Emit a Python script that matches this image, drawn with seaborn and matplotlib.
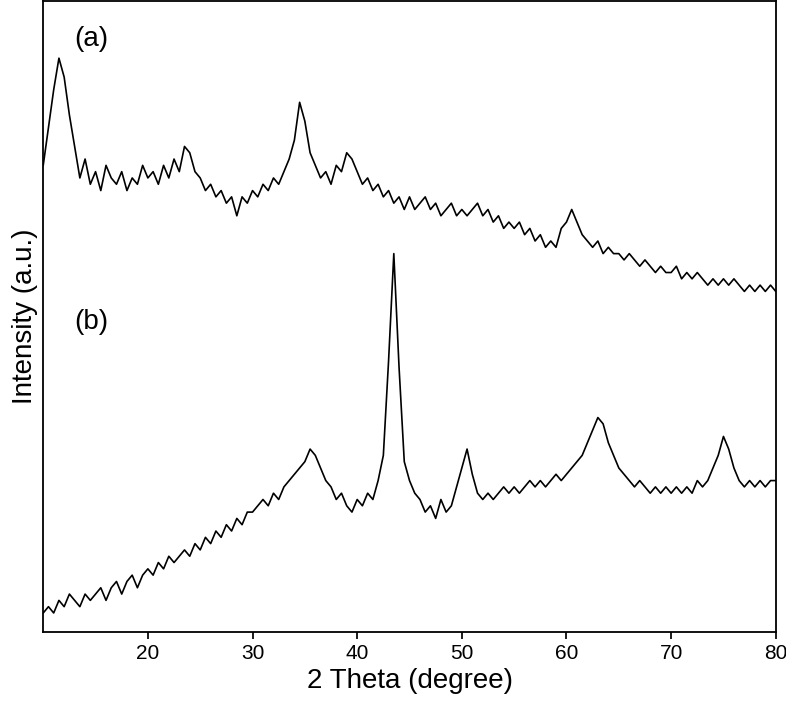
import numpy as np
import matplotlib.pyplot as plt
import seaborn as sns

two_theta = np.arange(10, 80.01, 0.5)

intensity_a = [74, 80, 86, 91, 88, 82, 77, 72, 75, 71,
               73, 70, 74, 72, 71, 73, 70, 72, 71, 74,
               72, 73, 71, 74, 72, 75, 73, 77, 76, 73,
               72, 70, 71, 69, 70, 68, 69, 66, 69, 68,
               70, 69, 71, 70, 72, 71, 73, 75, 78, 84,
               81, 76, 74, 72, 73, 71, 74, 73, 76, 75,
               73, 71, 72, 70, 71, 69, 70, 68, 69, 67,
               69, 67, 68, 69, 67, 68, 66, 67, 68, 66,
               67, 66, 67, 68, 66, 67, 65, 66, 64, 65,
               64, 65, 63, 64, 62, 63, 61, 62, 61, 64,
               65, 67, 65, 63, 62, 61, 62, 60, 61, 60,
               60, 59, 60, 59, 58, 59, 58, 57, 58, 57,
               57, 58, 56, 57, 56, 57, 56, 55, 56, 55,
               56, 55, 56, 55, 54, 55, 54, 55, 54, 55,
               54]

intensity_b = [3, 4, 3, 5, 4, 6, 5, 4, 6, 5,
               6, 7, 5, 7, 8, 6, 8, 9, 7, 9,
               10, 9, 11, 10, 12, 11, 12, 13, 12, 14,
               13, 15, 14, 16, 15, 17, 16, 18, 17, 19,
               19, 20, 21, 20, 22, 21, 23, 24, 25, 26,
               27, 29, 28, 26, 24, 23, 21, 22, 20, 19,
               21, 20, 22, 21, 24, 28, 43, 60, 42, 27,
               24, 22, 21, 19, 20, 18, 21, 19, 20, 23,
               26, 29, 25, 22, 21, 22, 21, 22, 23, 22,
               23, 22, 23, 24, 23, 24, 23, 24, 25, 24,
               25, 26, 27, 28, 30, 32, 34, 33, 30, 28,
               26, 25, 24, 23, 24, 23, 22, 23, 22, 23,
               22, 23, 22, 23, 22, 24, 23, 24, 26, 28,
               31, 29, 26, 24, 23, 24, 23, 24, 23, 24,
               24]

x_ticks = [20, 30, 40, 50, 60, 70, 80]

sns.set_theme(style="ticks", rc={'text.color': 'black', 'axes.labelcolor': 'black',
                                 'xtick.color': 'black', 'axes.edgecolor': 'black'})
plt.rcParams['font.family'] = ['Liberation Sans', 'DejaVu Sans']

fig = plt.figure(figsize=(7.86, 7.14), dpi=100)
ax = fig.add_axes([0.055, 0.115, 0.932, 0.883])
sns.lineplot(x=two_theta, y=intensity_a, ax=ax, color='black', lw=1.2)
sns.lineplot(x=two_theta, y=intensity_b, ax=ax, color='black', lw=1.2)

ax.set_xlim(10, 80)
ax.set_ylim(0, 100)
ax.set_xticks(x_ticks)
ax.set_yticks([])
ax.tick_params(axis='x', labelsize=15, direction='out', length=5)
ax.set_xlabel('2 Theta (degree)', fontsize=20)
ax.set_ylabel('Intensity (a.u.)', fontsize=20)
for s in ax.spines.values():
    s.set_linewidth(1.3)
ax.text(13, 93, '(a)', fontsize=20)
ax.text(13, 48, '(b)', fontsize=20)

fig.savefig('out.png', dpi=100)
